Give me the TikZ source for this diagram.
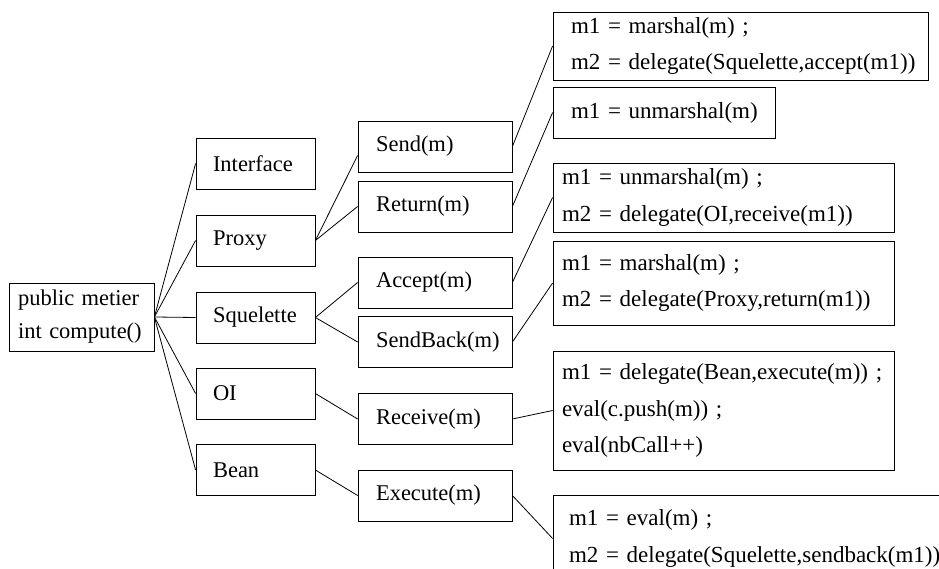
\documentclass[tikz,border=0pt]{standalone}
\usepackage{fontspec}
\setmainfont{Liberation Serif}
\newcommand{\ligne}[1]{\mbox{#1}}

\begin{document}
\begin{tikzpicture}[x=1pt, y=-1pt, line width=0.8pt,
    every node/.style={font=\fontsize{22.5}{33}\selectfont},
    rootbox/.style={draw, align=left, text width=127, inner xsep=9, minimum height=68},
    classbox/.style={draw, align=left, text width=85, inner xsep=17, minimum height=51},
    callbox/.style={draw, align=left, text width=118, inner xsep=18, minimum height=51},
    codebox/.style={draw, align=left, inner xsep=9, font=\fontsize{23}{36.5}\selectfont}]
  \useasboundingbox (0,0) rectangle (939,569);
  \clip (0,0) rectangle (939,569);

  % composant métier
  \node[rootbox] (root) at (81.5,317) {\ligne{public metier}\\\ligne{int compute()}};

  % éléments générés
  \node[classbox] (iface) at (255.5,163.5) {Interface};
  \node[classbox] (proxy) at (255.5,240.5) {Proxy};
  \node[classbox] (squel) at (255.5,317.5) {Squelette};
  \node[classbox] (oi)    at (255.5,393.5) {OI};
  \node[classbox] (bean)  at (255.5,470)   {Bean};

  % méthodes
  \node[callbox] (send)     at (435,146.5) {Send(m)};
  \node[callbox] (ret)      at (435,206.5) {Return(m)};
  \node[callbox] (accept)   at (435,282.5) {Accept(m)};
  \node[callbox] (sendback) at (435,342)   {SendBack(m)};
  \node[callbox] (receive)  at (435,419)   {Receive(m)};
  \node[callbox] (execute)  at (435,495.5) {Execute(m)};

  % corps des méthodes
  \node[codebox, inner xsep=18, text width=339, minimum height=68] (marsh) at (740.5,46)
    {\ligne{m1 = marshal(m) ;}\\\ligne{m2 = delegate(Squelette,accept(m1))}};
  \node[codebox, inner xsep=18, text width=186, minimum height=51] (unmarsh) at (664,112.5)
    {\ligne{m1 = unmarshal(m)}};
  \node[codebox, text width=323, minimum height=69] (unmarshoi) at (723.5,197.5)
    {\ligne{m1 = unmarshal(m) ;}\\\ligne{m2 = delegate(OI,receive(m1))}};
  \node[codebox, text width=323, minimum height=84] (marshproxy) at (723.5,283)
    {\ligne{m1 = marshal(m) ;}\\\ligne{m2 = delegate(Proxy,return(m1))}};
  \node[codebox, text width=323, minimum height=119] (deleg) at (723.5,410.5)
    {\ligne{m1 = delegate(Bean,execute(m)) ;}\\\ligne{eval(c.push(m)) ;}\\\ligne{eval(nbCall++)}};
  \node[codebox, inner xsep=16, text width=375, minimum height=87] (evalbox) at (756.5,538.5)
    {\ligne{m1 = eval(m) ;}\\\ligne{m2 = delegate(Squelette,sendback(m1))}};

  \foreach \c in {iface,proxy,squel,oi,bean}
    \draw (root.east) -- (\c.west);
  \draw (proxy.east) -- ([yshift=-9pt]send.west);
  \foreach \a/\b in {proxy/ret,squel/accept,squel/sendback,oi/receive,bean/execute,
                     send/marsh,ret/unmarsh,accept/unmarshoi,sendback/marshproxy,
                     receive/deleg,execute/evalbox}
    \draw (\a.east) -- (\b.west);
\end{tikzpicture}
\end{document}
